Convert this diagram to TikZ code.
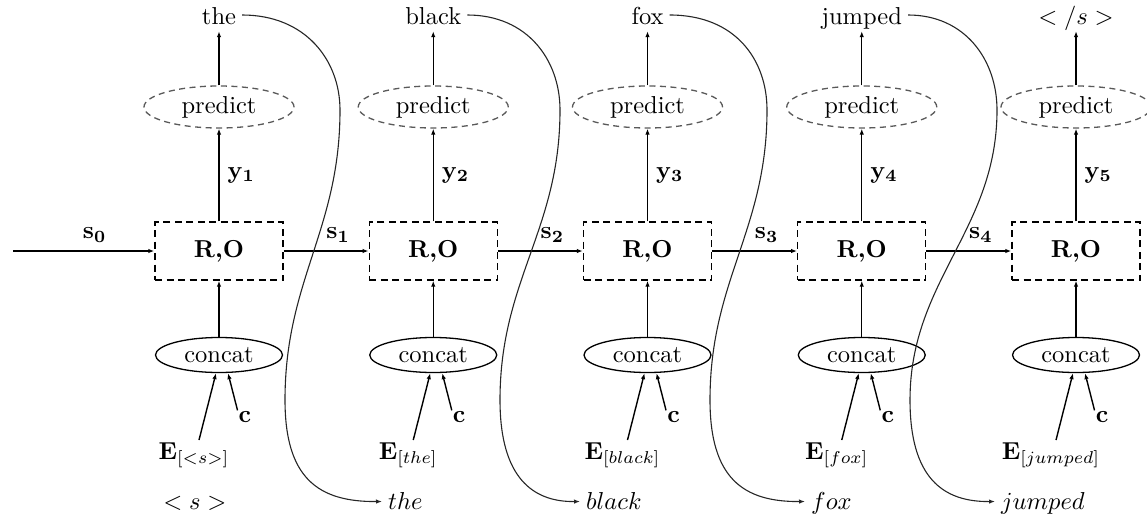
\documentclass[tikz,border=0pt]{standalone}
\usetikzlibrary{shapes.geometric,arrows.meta}
% labels are set at 10pt and enlarged as a whole
\newcommand\lbl[1]{\scalebox{2.45}{#1}}
\begin{document}
\begin{tikzpicture}[x=1pt,y=-1pt,
  every node/.style={inner sep=8pt},
  rnnbox/.style={draw,dash pattern=on 7pt off 4.5pt,line width=1.4pt,minimum width=128pt,minimum height=58pt,inner sep=0pt},
  predictnode/.style={ellipse,draw=black!65,dash pattern=on 6pt off 4.5pt,line width=1.3pt,minimum width=150pt,minimum height=42pt,inner sep=0pt},
  concatnode/.style={ellipse,draw,line width=1.3pt,minimum width=127pt,minimum height=35pt,inner sep=0pt},
  flow/.style={-{Latex[length=6pt,width=4.5pt]},line width=1.4pt},
  feed/.style={-{Latex[length=6pt,width=4.5pt]},line width=1.1pt,black!85},
  outword/.style={anchor=base,inner xsep=6pt,inner ysep=0pt,text height=17pt,text depth=7pt},
  inword/.style={anchor=base west,inner xsep=6pt,inner ysep=0pt,text height=15pt,text depth=0pt},
]
\useasboundingbox (0,0) rectangle (1147,514);

% one decoder step per column
\foreach \i/\x/\sub in {1/219/{<s>},2/433.25/{the},3/647.5/{black},4/861.75/{fox},5/1076/{jumped}} {
  \node[rnnbox] (box\i) at (\x,251) {\lbl{\textbf{R,O}}};
  \node[predictnode] (pred\i) at (\x,107) {\lbl{predict}};
  \node[concatnode] (cat\i) at (\x,355) {\lbl{concat}};
  \node[inner sep=2pt] (emb\i) at (\x-25,455) {\lbl{$\mathbf{E}_{[\sub]}$}};
  \node[inner sep=1pt] (ctx\i) at (\x+26,417) {\lbl{$\mathbf{c}$}};
  \draw[flow] (box\i.north) -- node[right]{\lbl{$\mathbf{y_{\i}}$}} (pred\i.south);
  \draw[flow] (cat\i.north) -- (box\i.south);
  \draw[flow] ([xshift=5pt]emb\i.north) -- ([xshift=-3pt]cat\i.south);
  \draw[flow] (ctx\i.north west) -- ([xshift=9pt]cat\i.south);
}

% predicted words
\node[outword] (w1) at (219,24) {\lbl{the}};
\node[outword] (w2) at (433.25,24) {\lbl{black}};
\node[outword] (w3) at (647.5,24) {\lbl{fox}};
\node[outword] (w4) at (861.75,24) {\lbl{jumped}};
\node[outword] (w5) at (1076,24) {\lbl{$</s>$}};
\foreach \i in {1,...,5} \draw[flow] (pred\i.north) -- (w\i.south);

% recurrent state
\coordinate (src) at (13,251);
\draw[flow] (src) -- node[above,xshift=11pt]{\lbl{$\mathbf{s_0}$}} (box1.west);
\foreach \k/\n in {1/2,2/3,3/4,4/5}
  \draw[flow] (box\k.east) -- node[above,xshift=12pt]{\lbl{$\mathbf{s_{\k}}$}} (box\n.west);

% words fed back as next inputs
\node (bos) at (195,503) {\lbl{$<s>$}};
\node[inword] (i1) at (382,509) {\lbl{$the$}};
\node[inword] (i2) at (580,509) {\lbl{$black$}};
\node[inword] (i3) at (805,509) {\lbl{$fox$}};
\node[inword] (i4) at (995,509) {\lbl{$jumped$}};

\draw[feed] ([yshift=9pt]w1.base east) .. controls +(63,0) and (340,60) .. (340,110)
  .. controls (340,230) and (285,280) .. (285,400)
  .. controls (285,478) and (318,502) .. (i1.west);
\draw[feed] ([yshift=9pt]w2.base east) .. controls +(60,0) and (560,60) .. (560,110)
  .. controls (560,230) and (500,280) .. (500,400)
  .. controls (500,478) and (533,502) .. (i2.west);
\draw[feed] ([yshift=9pt]w3.base east) .. controls +(66,0) and (767,60) .. (767,110)
  .. controls (767,230) and (710,280) .. (710,400)
  .. controls (710,478) and (743,502) .. (i3.west);
\draw[feed] ([yshift=9pt]w4.base east) .. controls +(57,0) and (997,60) .. (997,110)
  .. controls (997,230) and (910,280) .. (910,400)
  .. controls (910,478) and (943,502) .. (i4.west);
\end{tikzpicture}
\end{document}
